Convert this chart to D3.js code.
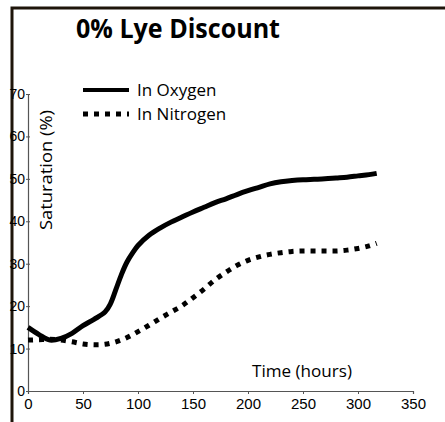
<!DOCTYPE html>
<html><head><meta charset="utf-8">
<script src="https://cdn.jsdelivr.net/npm/d3@7"></script>
<style>body{margin:0;background:#fff}svg{display:block}</style>
</head><body>
<script>
const title = "0% Lye Discount";
const seriesNames = ["In Oxygen", "In Nitrogen"];
const xTicks = [0, 50, 100, 150, 200, 250, 300, 350];
const yTicks = [0, 10, 20, 30, 40, 50, 60, 70];
const oxygenT = [0,10,20,30,40,50,60,70,75,80,85,90,95,100,110,120,130,140,150,160,170,180,190,200,210,220,230,240,250,260,270,280,290,300,310,317];
const oxygenV = [15,13.3,12,12.4,13.6,15.4,16.9,18.6,20.6,24,27.5,30.4,32.5,34.3,36.7,38.4,39.8,41,42.2,43.3,44.4,45.3,46.3,47.2,48,48.8,49.3,49.6,49.8,49.9,50,50.2,50.4,50.7,51,51.3];
const nitrogenT = [0,10,20,30,40,50,60,70,80,90,100,110,120,130,140,150,160,170,180,190,200,210,220,230,240,250,260,270,280,290,300,310,317];
const nitrogenV = [12,12.1,12.2,12,11.6,11.1,10.9,11,11.6,12.6,14,15.5,17.1,18.6,20.1,22,24,26.2,28,29.6,30.8,31.6,32.2,32.6,32.9,33,33,33,33,33.2,33.6,34.2,34.8];

const W = 445, H = 422;
const svg = d3.select("body").append("svg").attr("width", W).attr("height", H);
const x = d3.scaleLinear().domain([0, 350]).range([28, 413]);
const y = d3.scaleLinear().domain([0, 70]).range([391, 94]);

// frame
svg.append("path").attr("d", `M12,${H} L12,8 L${W},8`).attr("fill", "none")
  .attr("stroke", "#1e150a").attr("stroke-width", 3);

// title
svg.append("text").attr("x", 178).attr("y", 38).attr("text-anchor", "middle")
  .attr("font-family", "'Open Sans', sans-serif").attr("font-weight", 700)
  .attr("font-size", 26).attr("textLength", 204).attr("lengthAdjust", "spacingAndGlyphs")
  .attr("fill", "#000").text(title);

const tickFont = "'Liberation Sans Narrow', 'Arial Narrow', sans-serif";
// axes
const xAxis = svg.append("g").attr("transform", `translate(0,${y(0)})`)
  .call(d3.axisBottom(x).tickValues(xTicks).tickSize(3).tickPadding(4).tickFormat(d3.format("d")));
const yAxis = svg.append("g").attr("transform", `translate(${x(0)},0)`)
  .call(d3.axisLeft(y).tickValues(yTicks).tickSize(0).tickPadding(3).tickFormat(d3.format("d")));
yAxis.selectAll(".tick line").attr("x1", -2).attr("x2", 2);
[xAxis, yAxis].forEach(g => {
  g.select(".domain").attr("stroke", "#555").attr("stroke-width", 1.2);
  g.selectAll(".tick line").attr("stroke", "#555");
  g.selectAll("text").attr("font-family", tickFont).attr("fill", "#000");
});
xAxis.selectAll("text").attr("font-size", 15);
yAxis.selectAll("text").attr("font-size", 14);

// axis titles
const labFont = "'Open Sans', sans-serif";
svg.append("text").attr("x", 302).attr("y", 377).attr("text-anchor", "middle")
  .attr("font-family", labFont).attr("font-size", 16)
  .attr("textLength", 100).attr("lengthAdjust", "spacingAndGlyphs").text("Time (hours)");
svg.append("text").attr("transform", "translate(52,170) rotate(-90)").attr("text-anchor", "middle")
  .attr("font-family", labFont).attr("font-size", 16)
  .attr("textLength", 120).attr("lengthAdjust", "spacingAndGlyphs").text("Saturation (%)");

// lines
const line = d3.line().curve(d3.curveCatmullRom.alpha(0.5));
const oxy = oxygenT.map((t, i) => [x(t), y(oxygenV[i])]);
const nit = nitrogenT.map((t, i) => [x(t), y(nitrogenV[i])]);
svg.append("path").attr("d", line(nit)).attr("fill", "none").attr("stroke", "#000")
  .attr("stroke-width", 5).attr("stroke-dasharray", "5,6");
svg.append("path").attr("d", line(oxy)).attr("fill", "none").attr("stroke", "#000")
  .attr("stroke-width", 5);

// legend
const leg = [{name: seriesNames[0], dash: null, yy: 90}, {name: seriesNames[1], dash: "5,6", yy: 114}];
leg.forEach(l => {
  svg.append("line").attr("x1", 83).attr("x2", 129).attr("y1", l.yy).attr("y2", l.yy)
    .attr("stroke", "#000").attr("stroke-width", l.dash ? 5 : 4).attr("stroke-dasharray", l.dash);
  svg.append("text").attr("x", 137).attr("y", l.yy + 6).attr("font-family", labFont)
    .attr("font-size", 17).text(l.name);
});
</script>
</body></html>
